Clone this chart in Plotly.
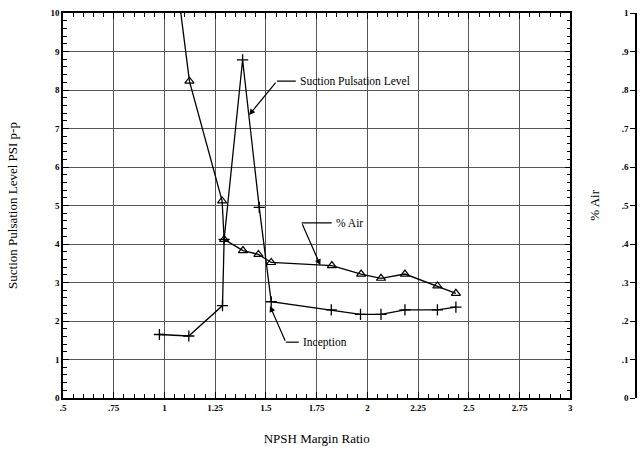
import plotly.graph_objects as go

# ---- data ----
pulse_x = [0.975, 1.12, 1.286, 1.294, 1.385, 1.467, 1.526, 1.822, 1.966, 2.067, 2.185, 2.345, 2.436]
pulse_y = [1.65, 1.61, 2.40, 4.12, 8.78, 4.95, 2.50, 2.29, 2.17, 2.17, 2.29, 2.29, 2.36]

air_x = [0.98, 1.123, 1.284, 1.294, 1.387, 1.463, 1.526, 1.825, 1.969, 2.067, 2.185, 2.345, 2.436]
air_y = [1.42, 0.823, 0.512, 0.412, 0.383, 0.373, 0.352, 0.344, 0.322, 0.311, 0.322, 0.291, 0.272]

x_ticks = [0.5, 0.75, 1, 1.25, 1.5, 1.75, 2, 2.25, 2.5, 2.75, 3]
x_tick_labels = [".5", ".75", "1", "1.25", "1.5", "1.75", "2", "2.25", "2.5", "2.75", "3"]
y_ticks = list(range(0, 11))
y2_ticks = [0, 0.1, 0.2, 0.3, 0.4, 0.5, 0.6, 0.7, 0.8, 0.9, 1.0]
y2_tick_labels = ["0", ".1", ".2", ".3", ".4", ".5", ".6", ".7", ".8", ".9", "1"]

FONT = "Liberation Serif"
R_MARGIN = 3
PLOT_W = 642 - 63 - R_MARGIN

fig = go.Figure()
fig.add_trace(go.Scatter(
    x=pulse_x, y=pulse_y, mode="lines+markers", name="Suction Pulsation Level",
    line=dict(color="black", width=1.3),
    marker=dict(symbol="cross-thin-open", size=8, line=dict(color="black", width=1.3)),
    yaxis="y"))
fig.add_trace(go.Scatter(
    x=air_x, y=air_y, mode="lines+markers", name="% Air",
    line=dict(color="black", width=1.3),
    marker=dict(symbol="triangle-up-open", size=8, color="black", line=dict(color="black", width=1.2)),
    yaxis="y2"))

# leader lines (horizontal parts) and arrows
leaders = [
    # tip(x,y), elbow(x,y), horizontal end x, text
    ((1.417, 7.35), (1.554, 8.23), 1.647, "Suction Pulsation Level"),
    ((1.768, 3.45), (1.676, 4.55), 1.824, "% Air"),
    ((1.520, 2.39), (1.598, 1.45), 1.662, "Inception"),
]
for (tx, ty), (ex, ey), hx, txt in leaders:
    fig.add_shape(type="line", x0=ex, y0=ey, x1=hx, y1=ey, xref="x", yref="y",
                  line=dict(color="black", width=1.2))
    fig.add_annotation(x=tx, y=ty, ax=ex, ay=ey, axref="x", ayref="y", xref="x", yref="y",
                       text="", showarrow=True, arrowhead=2, arrowsize=1, arrowwidth=1.2,
                       arrowcolor="black")
    fig.add_annotation(x=hx + 0.01, y=ey, xref="x", yref="y", text=txt, showarrow=False,
                       xanchor="left", yanchor="middle",
                       font=dict(family=FONT, size=11.5, color="black"))

# right axis title
fig.add_annotation(x=(597 - 63) / PLOT_W, y=0.5, xref="paper", yref="paper", text="% Air",
                   textangle=-90, showarrow=False, xanchor="center", yanchor="middle",
                   font=dict(family=FONT, size=13, color="black"))

axis_font = dict(family=FONT, size=9, color="black", weight="bold")

fig.update_layout(
    width=642, height=450,
    margin=dict(l=63, r=R_MARGIN, t=13, b=52),
    paper_bgcolor="white", plot_bgcolor="white",
    showlegend=False,
    font=dict(family=FONT, color="black"),
    xaxis=dict(
        domain=[0, 510 / PLOT_W], range=[0.5, 3],
        tickvals=x_ticks, ticktext=x_tick_labels, tickfont=axis_font,
        ticks="inside", ticklen=6, tickwidth=1, tickcolor="black",
        minor=dict(dtick=0.05, ticks="inside", ticklen=4, tickcolor="black", showgrid=False),
        showgrid=True, gridcolor="#555", gridwidth=1,
        showline=True, linecolor="black", linewidth=1.5, mirror="ticks",
        zeroline=False,
        title=dict(text="NPSH Margin Ratio", font=dict(family=FONT, size=13), standoff=22),
    ),
    yaxis=dict(
        range=[0, 10], tickvals=y_ticks, tickfont=axis_font,
        ticks="inside", ticklen=6, tickwidth=1, tickcolor="black",
        minor=dict(dtick=0.2, ticks="inside", ticklen=4, tickcolor="black", showgrid=False),
        showgrid=True, gridcolor="#555", gridwidth=1,
        showline=True, linecolor="black", linewidth=1.5, mirror="ticks",
        zeroline=False,
        title=dict(text="Suction Pulsation Level PSI p-p", font=dict(family=FONT, size=13), standoff=30),
    ),
    yaxis2=dict(
        overlaying="y", anchor="free", position=1.0, side="left",
        range=[0, 1], tickvals=y2_ticks, ticktext=y2_tick_labels, tickfont=axis_font,
        ticks="outside", ticklen=5, tickcolor="black",
        showgrid=False, zeroline=False,
        showline=True, linecolor="black", linewidth=1.5,
    ),
)

fig.write_html("out.html", config={"displayModeBar": False},
               post_script="document.body.style.margin='0';")
